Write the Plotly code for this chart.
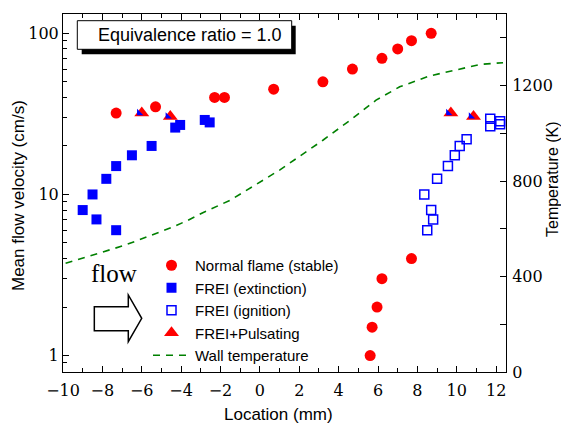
import plotly.graph_objects as go

# ---------------- data ----------------
normal_x = [-7.3, -5.3, -2.3, -1.8, 0.7, 3.2, 4.7, 6.2, 7.0, 7.7, 8.7, 7.7, 6.2, 5.95, 5.7, 5.6]
normal_y = [32, 35, 40, 40, 45, 50, 60, 70, 80, 90, 100, 4, 3, 2, 1.5, 1]

ext_x = [-9.0, -8.5, -8.3, -7.8, -7.3, -7.3, -6.5, -5.5, -4.3, -4.05, -2.8, -2.55]
ext_y = [8, 10, 7, 12.5, 15, 6, 17.5, 20, 26, 27, 29, 28]

ign_x = [8.5, 8.7, 8.8, 8.35, 9.0, 9.55, 9.9, 10.15, 10.5, 11.7, 11.7, 12.2, 12.2]
ign_y = [6, 8, 7, 10, 12.5, 15, 17.5, 20, 22, 29.5, 26.5, 28.5, 27.3]

puls_x = [-6.0, -4.55, 9.7, 10.85]
puls_y = [32, 30.5, 32, 30.5]

wall_x = [-10.5, -9.9, -8.3, -6.9, -6.1, -5.2, -4.4, -3.65, -2.9, -1.5, 1.0, 3.2,
          4.7, 5.9, 7.1, 8.6, 10.2, 11.2, 12.35]
wall_T = [440, 455, 495, 530, 555, 583, 608, 636, 667, 720, 846, 971,
          1062, 1139, 1195, 1240, 1272, 1289, 1296]

x_tick_vals = [-10, -8, -6, -4, -2, 0, 2, 4, 6, 8, 10, 12]
y_tick_vals = [1, 10, 100]
t_tick_vals = [0, 400, 800, 1200]

# ---------------- layout constants ----------------
W, H = 561, 426
ML, MR, MT, MB = 63, 55, 14, 54
PW, PH = W - ML - MR, H - MT - MB

def px(xp):
    return (xp - ML) / PW

def py(yp):
    return (H - MB - yp) / PH

SANS = "Liberation Sans"
SERIF_NUM = "DejaVu Serif"
SERIF = "Liberation Serif"

RED = "#ff0000"
BLUE = "#0000ff"
GREEN = "#008000"

fig = go.Figure()

fig.add_trace(go.Scatter(
    x=normal_x, y=normal_y, mode="markers", name="Normal flame (stable)",
    marker=dict(symbol="circle", size=11, color=RED, line=dict(width=0)),
))
fig.add_trace(go.Scatter(
    x=ext_x, y=ext_y, mode="markers", name="FREI (extinction)",
    marker=dict(symbol="square", size=10, color=BLUE, line=dict(width=0)),
))
fig.add_trace(go.Scatter(
    x=ign_x, y=ign_y, mode="markers", name="FREI (ignition)",
    marker=dict(symbol="square-open", size=9, color=BLUE, line=dict(width=1.5, color=BLUE)),
))
fig.add_trace(go.Scatter(
    x=puls_x, y=puls_y, mode="markers", name="FREI+Pulsating",
    marker=dict(symbol="triangle-up", size=13, color=RED, line=dict(width=0)),
))
fig.add_trace(go.Scatter(
    x=puls_x, y=puls_y, mode="markers", showlegend=False, hoverinfo="skip",
    marker=dict(symbol="triangle-se", size=7, color=BLUE, angle=90, standoff=2.6,
                line=dict(width=0)),
))
fig.add_trace(go.Scatter(
    x=wall_x, y=wall_T, mode="lines", name="Wall temperature", yaxis="y2",
    line=dict(color=GREEN, width=1.6, dash="7px,6px"),
))

axis_common = dict(
    showline=True, linecolor="black", linewidth=1,
    ticks="inside", ticklen=6, tickcolor="black", tickwidth=1,
    showgrid=False, zeroline=False, automargin=False,
    tickfont=dict(family=SERIF_NUM, size=16, color="black"),
)

fig.update_layout(
    width=W, height=H,
    margin=dict(l=ML, r=MR, t=MT, b=MB, pad=0, autoexpand=False),
    paper_bgcolor="white", plot_bgcolor="white",
    font=dict(family=SANS, color="black"),
    xaxis=dict(
        range=[-10, 12.5], tickvals=x_tick_vals, mirror="ticks", ticklabelstandoff=4,
        minor=dict(ticks="inside", ticklen=4, dtick=1, tick0=0, tickcolor="black"),
        **axis_common,
    ),
    yaxis=dict(
        type="log", range=[-0.102, 2.12], tickvals=y_tick_vals,
        ticktext=[str(v) for v in y_tick_vals],
        minor=dict(ticks="inside", ticklen=4, dtick="D1", tickcolor="black"),
        **axis_common,
    ),
    yaxis2=dict(
        overlaying="y", side="right", range=[0, 1500], tickvals=t_tick_vals,
        ticklabelstandoff=2,
        minor=dict(ticks="inside", ticklen=6, dtick=200, tick0=0, tickcolor="black"),
        **axis_common,
    ),
    legend=dict(
        x=px(148), y=py(249), xanchor="left", yanchor="top",
        bgcolor="rgba(0,0,0,0)", borderwidth=0,
        font=dict(family=SANS, size=15, color="black"),
        itemwidth=37, tracegroupgap=0,
    ),
    showlegend=True,
)

# axis titles
fig.add_annotation(xref="paper", yref="paper", x=px(278), y=py(414),
                   text="Location (mm)", showarrow=False,
                   font=dict(family=SANS, size=17, color="black"),
                   xanchor="center", yanchor="middle")
fig.add_annotation(xref="paper", yref="paper", x=px(18), y=py(196),
                   text="Mean flow velocity (cm/s)", showarrow=False, textangle=-90,
                   font=dict(family=SANS, size=17, color="black"),
                   xanchor="center", yanchor="middle")
fig.add_annotation(xref="paper", yref="paper", x=px(552), y=py(179),
                   text="Temperature (K)", showarrow=False, textangle=-90,
                   font=dict(family=SANS, size=16, color="black"),
                   xanchor="center", yanchor="middle")

# boxed label with drop shadow
fig.add_shape(type="rect", xref="paper", yref="paper",
              x0=px(81.7), x1=px(295.7), y0=py(54.3), y1=py(25.7),
              fillcolor="black", line=dict(width=0), layer="above")
fig.add_shape(type="rect", xref="paper", yref="paper",
              x0=px(77.3), x1=px(291.7), y0=py(49.3), y1=py(20.7),
              fillcolor="white", line=dict(color="black", width=1), layer="above")
fig.add_annotation(xref="paper", yref="paper", x=px(190), y=py(35.5),
                   text="Equivalence ratio = 1.0", showarrow=False,
                   font=dict(family=SANS, size=18, color="black"),
                   xanchor="center", yanchor="middle")

# flow label and outline arrow
fig.add_annotation(xref="paper", yref="paper", x=px(114), y=py(273),
                   text="flow", showarrow=False,
                   font=dict(family=SERIF, size=25, color="black"),
                   xanchor="center", yanchor="middle")
pts = [(94.3, 306.7), (128.3, 306.7), (128.3, 295), (141.7, 318.3),
       (128.3, 341.7), (128.3, 330.7), (94.3, 330.7)]
path = "M " + " L ".join(f"{px(a):.4f},{py(b):.4f}" for a, b in pts) + " Z"
fig.add_shape(type="path", xref="paper", yref="paper", path=path,
              fillcolor="white", line=dict(color="black", width=1.5), layer="above")

fig.write_html("out.html", config={"displayModeBar": False},
               post_script="document.body.style.margin='0px';")
